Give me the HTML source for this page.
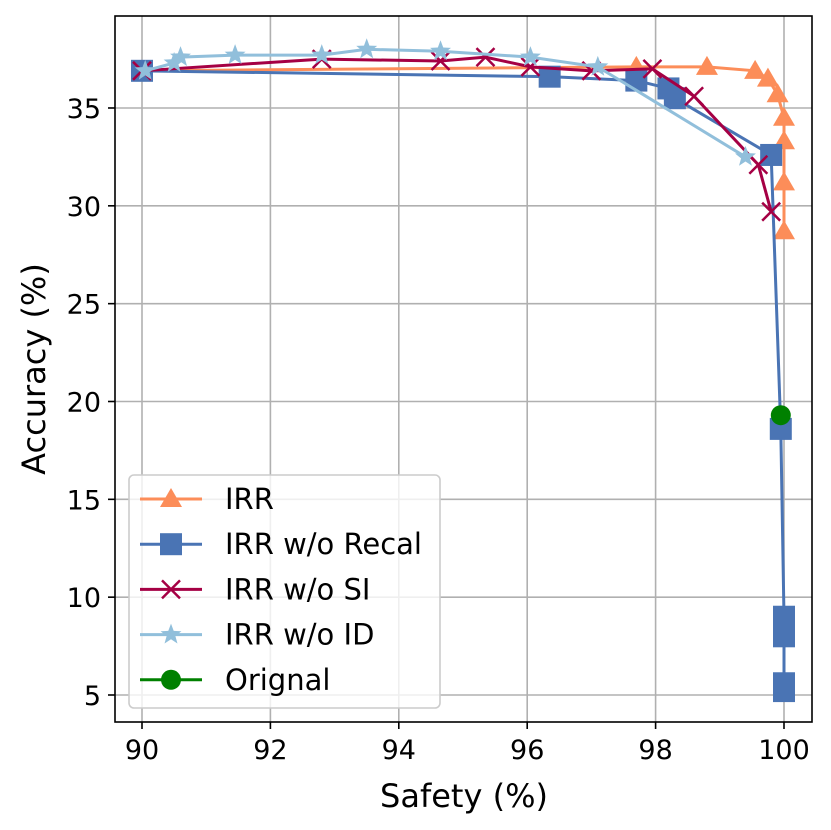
<!DOCTYPE html>
<html><head><meta charset="utf-8"><style>body{margin:0;background:#fff}svg{display:block;font-family:"DejaVu Sans","Liberation Sans",sans-serif}</style></head>
<body>
<svg id="chart" width="831" height="830" viewBox="0 0 831 830" xmlns="http://www.w3.org/2000/svg">
<g id="grid"></g>
<g id="series"></g>
<rect x="115" y="16" width="697" height="706" fill="none" stroke="#000" stroke-width="1.6"/>
<g id="axes"></g>
<text x="464" y="807" font-size="32" text-anchor="middle">Safety (%)</text>
<text transform="translate(45,369) rotate(-90)" font-size="32" text-anchor="middle">Accuracy (%)</text>
<g id="legend"></g>
</svg>
<script>
const xTicks=[90,92,94,96,98,100];
const yTicks=[5,10,15,20,25,30,35];
const irrX=[90,97.7,98.8,99.55,99.75,99.9,100,100,100,100];
const irrY=[36.9,37.1,37.1,36.9,36.5,35.7,34.5,33.3,31.2,28.7];
const recalX=[90,96.35,97.7,98.2,98.3,99.8,99.95,100,100,100,100];
const recalY=[36.9,36.6,36.4,36.0,35.5,32.6,18.6,9.0,8.0,5.6,5.2];
const siX=[90,92.8,94.65,95.35,96.05,97,97.95,98.6,99.6,99.8];
const siY=[36.9,37.5,37.4,37.6,37.1,36.9,37.0,35.6,32.1,29.7];
const idX=[90.05,90.5,90.6,91.45,92.8,93.5,94.65,96.05,97.1,99.4];
const idY=[36.9,37.3,37.6,37.7,37.7,38.0,37.9,37.6,37.1,32.5];
const origX=[99.95];
const origY=[19.3];
const names=["IRR","IRR w/o Recal","IRR w/o SI","IRR w/o ID","Orignal"];
const NS="http://www.w3.org/2000/svg";
const sx=v=>142+(v-90)*64.2;
const sy=v=>695-(v-5)*19.567;
function mk(tag,attrs,parent){const e=document.createElementNS(NS,tag);for(const k in attrs)e.setAttribute(k,attrs[k]);parent.appendChild(e);return e;}
const grid=document.getElementById('grid'),axes=document.getElementById('axes'),ser=document.getElementById('series'),leg=document.getElementById('legend');
xTicks.forEach(t=>{const x=sx(t);
 const g=mk('line',{x1:x,x2:x,y1:16,y2:722,stroke:'#b0b0b0','stroke-width':1.6},grid);
 const k=mk('line',{x1:x,x2:x,y1:722,y2:729,stroke:'#000','stroke-width':1.6},axes);
 const l=mk('text',{x:x,y:759,'font-size':27,'text-anchor':'middle'},axes);l.textContent=t;});
yTicks.forEach(t=>{const y=sy(t);
 const g=mk('line',{x1:115,x2:812,y1:y,y2:y,stroke:'#b0b0b0','stroke-width':1.6},grid);
 const k=mk('line',{x1:108,x2:115,y1:y,y2:y,stroke:'#000','stroke-width':1.6},axes);
 const l=mk('text',{x:101,y:y+10,'font-size':27,'text-anchor':'end'},axes);l.textContent=t;});
function marker(type,x,y,c,p){
 let e;
 if(type==='tri')e=mk('path',{d:`M${x},${y-11}L${x+11},${y+8}L${x-11},${y+8}Z`,fill:c},p);
 else if(type==='sq')e=mk('rect',{x:x-11,y:y-11,width:22,height:22,fill:c},p);
 else if(type==='x')e=mk('path',{d:`M${x-9},${y-9}L${x+9},${y+9}M${x-9},${y+9}L${x+9},${y-9}`,stroke:c,'stroke-width':2.5,fill:'none'},p);
 else if(type==='star'){let d='';for(let i=0;i<10;i++){const r=i%2?4.6:11,a=-Math.PI/2+i*Math.PI/5;d+=(i?'L':'M')+(x+r*Math.cos(a))+','+(y+r*Math.sin(a));}e=mk('path',{d:d+'Z',fill:c},p);}
 else e=mk('circle',{cx:x,cy:y,r:10,fill:c},p);
 return e;}
const S=[[irrX,irrY,'#fc8d59','tri'],[recalX,recalY,'#4a74b4','sq'],[siX,siY,'#a50044','x'],[idX,idY,'#91bfdb','star'],[origX,origY,'#008000','circ']];
S.forEach((s,i)=>{const g=mk('g',{},ser);
 const pts=s[0].map((v,j)=>sx(v)+','+sy(s[1][j])).join(' ');
 const pl=mk('polyline',{points:pts,fill:'none',stroke:s[2],'stroke-width':3},g);
 s[0].forEach((v,j)=>{const m=marker(s[3],sx(v),sy(s[1][j]),s[2],g);});});
const box=mk('rect',{x:129,y:475,width:311,height:233,rx:5,fill:'#fff','fill-opacity':0.8,stroke:'#ccc','stroke-width':1.6},leg);
S.forEach((s,i)=>{const y=499+i*45.2;const g=mk('g',{},leg);
 mk('line',{x1:140,x2:202,y1:y,y2:y,stroke:s[2],'stroke-width':3},g);marker(s[3],171,y,s[2],g);
 const t=mk('text',{x:225,y:y+10,'font-size':29},g);t.textContent=names[i];});
</script>
</body></html>
